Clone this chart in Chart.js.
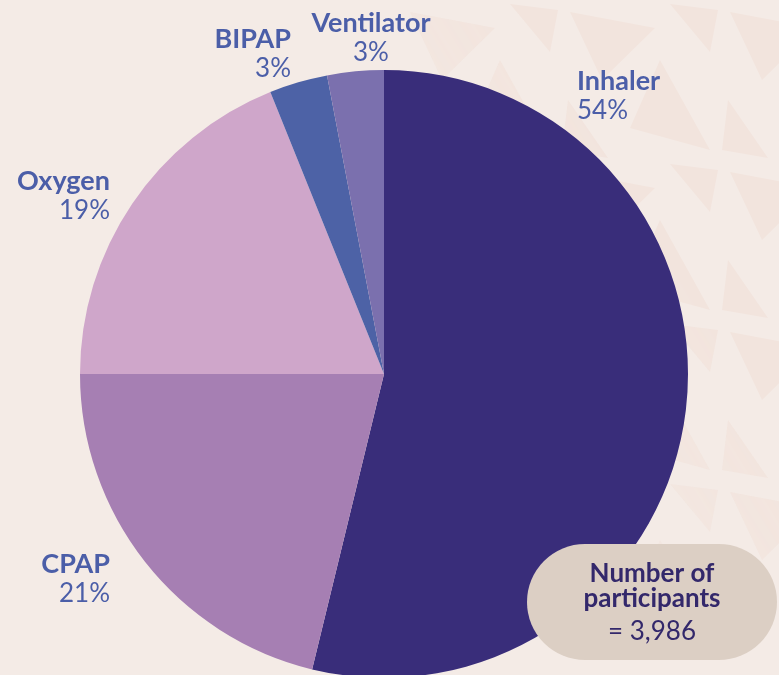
<!DOCTYPE html>
<html>
<head>
<meta charset="utf-8">
<script src="https://cdn.jsdelivr.net/npm/chart.js@4"></script>
<style>
  html, body { margin: 0; padding: 0; background: #f4ebe6; overflow: hidden; }
  #wrap { position: relative; width: 779px; height: 680px; }
  #deco {
    position: absolute; left: 400px; top: 0; width: 379px; height: 620px;
    background-image: url("data:image/svg+xml,%3Csvg xmlns='http://www.w3.org/2000/svg' width='160' height='160'%3E%3Cpath d='M10 12 L95 28 L42 80 Z M100 60 L150 150 L70 128 Z M8 100 L48 158 L2 150 Z M110 4 L158 10 L150 52 Z' fill='%23f2e4dd'/%3E%3C/svg%3E");
    -webkit-mask-image: linear-gradient(to bottom left, #000 35%, transparent 90%);
    mask-image: linear-gradient(to bottom left, #000 35%, transparent 90%);
  }
  canvas { position: relative; }
</style>
</head>
<body>
<div id="wrap"><div id="deco"></div><canvas id="chartDevices"></canvas></div>
<script>
// data (share of participants, %)
const categories = ['Inhaler', 'CPAP', 'Oxygen', 'BIPAP', 'Ventilator'];
const shares = [53.8, 21.2, 18.9, 3.1, 3.0];
const shareLabels = ['54%', '21%', '19%', '3%', '3%'];
const sliceColors = ['#392d7a', '#a67fb3', '#cfa6ca', '#4d62a6', '#7b70ae'];
const participants = '3,986';

// label placement relative to pie centre: [dx, dy of name baseline, align]
const labelSpots = [
  [193, -284, 'left'],
  [-274, 199, 'right'],
  [-274, -184, 'right'],
  [-93, -326, 'right'],
  [-13, -342, 'center']
];

const labelColor = '#4b5ea8';
const fontFam = 'Lato, "Noto Sans", sans-serif';

const pieLabels = {
  id: 'pieLabels',
  afterDraw(chart) {
    const ctx = chart.ctx;
    const arc = chart.getDatasetMeta(0).data[0];
    const cx = arc.x, cy = arc.y;
    ctx.save();
    ctx.fillStyle = labelColor;
    ctx.textBaseline = 'alphabetic';
    categories.forEach((c, i) => {
      const [dx, dy, al] = labelSpots[i];
      ctx.textAlign = al;
      ctx.font = 'bold 27px ' + fontFam;
      ctx.fillText(c, cx + dx, cy + dy);
      ctx.font = '26px ' + fontFam;
      ctx.fillText(shareLabels[i], cx + dx, cy + dy + 29);
    });

    // participants pill
    const x = 527, y = 544, w = 250, h = 116, r = 58;
    ctx.fillStyle = '#dccfc4';
    ctx.beginPath();
    ctx.roundRect(x, y, w, h, r);
    ctx.fill();
    ctx.fillStyle = '#33286b';
    ctx.textAlign = 'center';
    ctx.font = 'bold 26px ' + fontFam;
    ctx.fillText('Number of', x + w / 2, 582);
    ctx.fillText('participants', x + w / 2, 607);
    ctx.font = '26px ' + fontFam;
    ctx.fillText('= ' + participants, x + w / 2, 640);
    ctx.restore();
  }
};

const ctx = document.getElementById('chartDevices').getContext('2d');
const chartDevices = new Chart(ctx, {
  type: 'pie',
  data: {
    labels: categories,
    datasets: [{ data: shares, backgroundColor: sliceColors, borderWidth: 0, hoverOffset: 0 }]
  },
  options: {
    responsive: true,
    maintainAspectRatio: false,
    animation: false,
    layout: { padding: { top: 70, bottom: 2, left: 80, right: 91 } },
    plugins: { legend: { display: false }, tooltip: { enabled: false } }
  },
  plugins: [pieLabels]
});
</script>
</body>
</html>
